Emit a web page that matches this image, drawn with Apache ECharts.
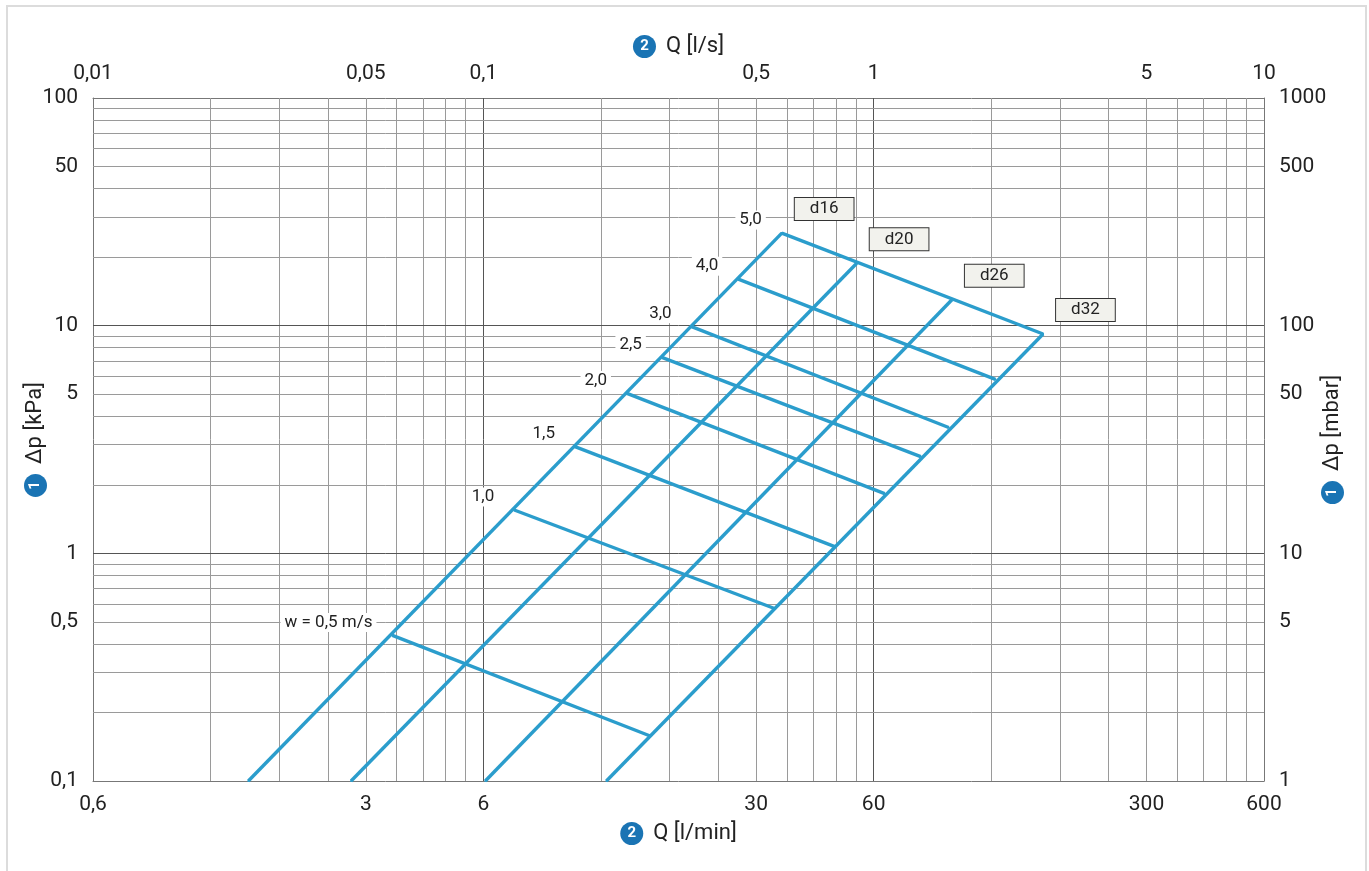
<!DOCTYPE html>
<html>
<head>
<meta charset="utf-8">
<script src="https://cdn.jsdelivr.net/npm/echarts@6/dist/echarts.min.js"></script>
<style>
  html, body { margin: 0; padding: 0; background: #fff; overflow: hidden; }
  #chart { width: 1369px; height: 871px; }
  #frame { position: absolute; left: 6px; top: 5px; width: 1357px; height: 870px;
    border: 2px solid #dcdcdc; border-bottom: none; pointer-events: none; }
</style>
</head>
<body>
<div id="chart"></div>
<div id="frame"></div>
<script>
// velocity lines, where they meet d16 and d32 (Q in l/min, dp in kPa)
var velocityLabels = ['w = 0,5 m/s', '1,0', '1,5', '2,0', '2,5', '3,0', '4,0', '5,0'];
var velD16Q = [3.51, 7.2, 10.3, 14.0, 17.2, 20.5, 27.0, 34.9];
var velD16Dp = [0.436, 1.55, 2.94, 5.04, 7.26, 9.9, 16.0, 25.5];
var velD32Q = [16.0, 33.3, 47.7, 64.0, 79.2, 93.4, 123, 163];
var velD32Dp = [0.158, 0.574, 1.07, 1.83, 2.66, 3.57, 5.81, 9.19];

// pipe lines, from the bottom edge (0,1 kPa) up to w = 5,0 m/s
var pipeNames = ['d16', 'd20', 'd26', 'd32'];
var pipeBottomQ = [1.50, 2.75, 6.07, 12.4];
var pipeBottomDp = [0.1, 0.1, 0.1, 0.1];
var pipeTopQ = [34.9, 54.3, 95.2, 163];
var pipeTopDp = [25.5, 18.8, 13.0, 9.19];

// tick labels
var qMinTicks = [0.6, 3, 6, 30, 60, 300, 600];
var qSecTicks = [0.01, 0.05, 0.1, 0.5, 1, 5, 10];
var kpaTicks = [0.1, 0.5, 1, 5, 10, 50, 100];
var mbarTicks = [1, 5, 10, 50, 100, 500, 1000];

// log grid: decades and the steps inside them
var qSecDecades = [0.01, 0.1, 1];
var kpaDecades = [0.1, 1, 10];
var gridSteps = [1, 2, 3, 4, 5, 6, 7, 8, 9];

var blue = '#2b9dcc';
var font = 'Roboto';

function fmt(v) {
  return String(+Number(v).toPrecision(6)).replace('.', ',');
}

function axisName(text, num) {
  return '{c|' + num + '}{t|' + text + '}';
}

var nameStyle = {
  color: '#222',
  fontFamily: font,
  fontSize: 22,
  rich: {
    c: {
      backgroundColor: '#1a74b4', color: '#fff', width: 23, height: 23, lineHeight: 23,
      borderRadius: 12, align: 'center', fontSize: 15, fontWeight: 'bold', fontFamily: font
    },
    t: { fontSize: 22, fontFamily: font, color: '#222', padding: [0, 0, 0, 10] }
  }
};

function logAxis(opt) {
  var ax = {
    type: 'log',
    logBase: 10,
    splitLine: { show: false },
    minorSplitLine: { show: false },
    axisTick: { show: false },
    axisLine: { show: true, onZero: false, lineStyle: { color: '#777', width: 1 } },
    axisLabel: {
      color: '#222', fontFamily: font, fontSize: 21, hideOverlap: false,
      showMinLabel: true, showMaxLabel: true,
      formatter: function (v) { return fmt(v); }
    },
    nameLocation: 'middle',
    nameMoveOverlap: false,
    nameTextStyle: nameStyle
  };
  for (var k in opt) {
    if (k === 'axisLabel') {
      for (var j in opt[k]) ax.axisLabel[j] = opt[k][j];
    } else {
      ax[k] = opt[k];
    }
  }
  return ax;
}

var gridLines = [];
qSecDecades.forEach(function (d) {
  gridSteps.forEach(function (s) {
    if (d === 0.01 && s === 1) return;
    var major = s === 1;
    gridLines.push({
      xAxis: +(d * s).toPrecision(6),
      lineStyle: { color: major ? '#555' : '#9a9a9a', width: 1, type: 'solid' }
    });
  });
});
kpaDecades.forEach(function (d) {
  gridSteps.forEach(function (s) {
    if (d === 0.1 && s === 1) return;
    var major = s === 1;
    gridLines.push({
      yAxis: +(d * s).toPrecision(6),
      lineStyle: { color: major ? '#555' : '#9a9a9a', width: 1, type: 'solid' }
    });
  });
});

var series = [{
  type: 'line',
  name: 'grid',
  xAxisIndex: 1,
  yAxisIndex: 0,
  data: [],
  silent: true,
  z: 1,
  markLine: {
    z: 1,
    symbol: 'none',
    silent: true,
    animation: false,
    label: { show: false },
    data: gridLines
  }
}];

velocityLabels.forEach(function (lab, i) {
  series.push({
    type: 'line',
    name: lab,
    xAxisIndex: 0,
    yAxisIndex: 0,
    z: 3,
    symbol: 'circle',
    symbolSize: 2,
    itemStyle: { color: blue },
    lineStyle: { color: blue, width: 3.4 },
    label: { show: false },
    data: [
      {
        value: [velD16Q[i], velD16Dp[i]],
        label: {
          show: true, position: 'left', distance: 15, offset: [0, -13],
          formatter: lab, color: '#222', fontFamily: font, fontSize: 17,
          backgroundColor: '#fff', padding: [1, 4]
        }
      },
      [velD32Q[i], velD32Dp[i]]
    ]
  });
});

pipeNames.forEach(function (name, i) {
  series.push({
    type: 'line',
    name: name,
    xAxisIndex: 0,
    yAxisIndex: 0,
    z: 3,
    symbol: 'circle',
    symbolSize: 2,
    itemStyle: { color: blue },
    lineStyle: { color: blue, width: 3.4 },
    label: { show: false },
    data: [
      [pipeBottomQ[i], pipeBottomDp[i]],
      {
        value: [pipeTopQ[i], pipeTopDp[i]],
        label: {
          show: true, position: 'right', distance: 12, offset: [0, -24],
          formatter: name, color: '#222', fontFamily: font, fontSize: 17,
          backgroundColor: '#f2f2ed', borderColor: '#333', borderWidth: 1,
          padding: [3, 15, 2, 15]
        }
      }
    ]
  });
});

var myChart = echarts.init(document.getElementById('chart'));
var option = {
  animation: false,
  backgroundColor: '#fff',
  grid: { left: 93, right: 105, top: 98, bottom: 90, containLabel: false },
  xAxis: [
    logAxis({
      position: 'bottom', min: 0.6, max: 600,
      axisLabel: { customValues: qMinTicks, margin: 13 },
      name: axisName('Q [l/min]', '2'), nameGap: 41
    }),
    logAxis({
      position: 'top', min: 0.01, max: 10,
      axisLabel: { customValues: qSecTicks, margin: 14 },
      name: axisName('Q [l/s]', '2'), nameGap: 40
    })
  ],
  yAxis: [
    logAxis({
      position: 'left', min: 0.1, max: 100,
      axisLabel: { customValues: kpaTicks, margin: 15 },
      name: axisName('Δp [kPa]', '1'), nameGap: 46, nameRotate: 90
    }),
    logAxis({
      position: 'right', min: 1, max: 1000,
      axisLabel: { customValues: mbarTicks, margin: 15 },
      name: axisName('Δp [mbar]', '1'), nameGap: 57, nameRotate: 90
    })
  ],
  series: series
};
myChart.setOption(option, true);
window.addEventListener('resize', function () {
  myChart.resize();
});
</script>
</body>
</html>
